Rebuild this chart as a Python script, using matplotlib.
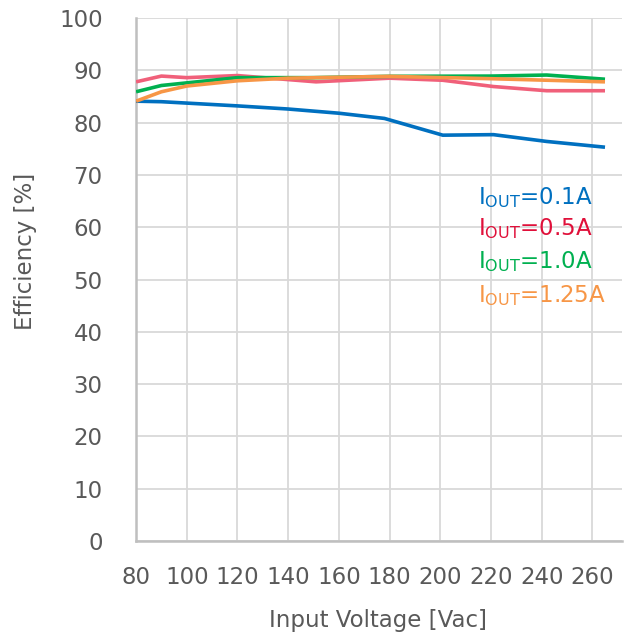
import numpy as np
import matplotlib
matplotlib.use('Agg')
import matplotlib.pyplot as plt

# data
v_01 = [80, 90, 120, 140, 160, 178, 201, 221, 242, 265]
eff_01 = [84.1, 84.0, 83.2, 82.6, 81.8, 80.8, 77.6, 77.7, 76.4, 75.3]
v_05 = [80, 90, 100, 120, 151, 180, 201, 221, 242, 265]
eff_05 = [87.8, 88.9, 88.6, 89.0, 87.8, 88.5, 88.1, 86.9, 86.1, 86.1]
v_10 = [80, 90, 120, 150, 180, 220, 242, 265]
eff_10 = [85.9, 87.1, 88.6, 88.6, 88.85, 88.9, 89.1, 88.3]
v_125 = [80, 90, 100, 120, 140, 180, 220, 265]
eff_125 = [84.1, 85.9, 87.0, 88.0, 88.5, 88.85, 88.4, 87.8]

labels = ['0.1A', '0.5A', '1.0A', '1.25A']
line_colors = ['#0070c0', '#f0607a', '#00b050', '#f79646']
text_colors = ['#0070c0', '#e0103a', '#00b050', '#f79646']
xticks = list(range(80, 261, 20))
yticks = list(range(0, 101, 10))

plt.rcParams['font.family'] = ['DejaVu Sans']
plt.rcParams['mathtext.fontset'] = 'dejavusans'
gray = '#595959'
fs = 16.5

fig = plt.figure(figsize=(6.27, 6.37), dpi=100)
ax = fig.add_axes([0.217, 0.1507, 0.775, 0.8210])

series = [(v_01, eff_01), (v_05, eff_05), (v_10, eff_10), (v_125, eff_125)]
for (v, e), c in zip(series, line_colors):
    ax.plot(v, e, color=c, lw=2.6, solid_capstyle='butt', zorder=3)

ax.set_xlim(80, 271.7)
ax.set_ylim(0, 100)
ax.set_xticks(xticks)
ax.set_yticks(yticks)
ax.grid(True, color='#d9d9d9', lw=1.3)
ax.set_axisbelow(True)
for s in ['top', 'right']:
    ax.spines[s].set_visible(False)
for s in ['left', 'bottom']:
    ax.spines[s].set_color('#bfbfbf')
    ax.spines[s].set_linewidth(1.8)
ax.tick_params(length=0, labelsize=fs, labelcolor=gray)
ax.tick_params(axis='x', pad=18)
ax.tick_params(axis='y', pad=24)

fig.text(378 / 627, 1 - 620 / 637, 'Input Voltage [Vac]', fontsize=fs,
         color=gray, ha='center', va='center')
fig.text(26 / 627, 1 - 251 / 637, 'Efficiency [%]', fontsize=fs,
         color=gray, ha='center', va='center', rotation=90)

ys = [198, 229, 262, 296]
for lab, c, yp in zip(labels, text_colors, ys):
    fig.text(478 / 627, 1 - yp / 637, r'I$_{\mathregular{OUT}}$=' + lab,
             fontsize=fs, color=c, ha='left', va='center')

fig.savefig('out.png', dpi=100)
